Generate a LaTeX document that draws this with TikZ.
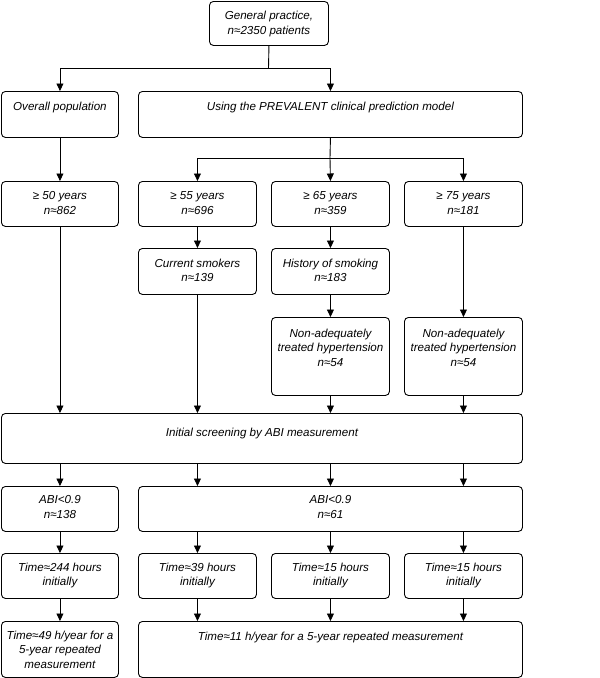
\documentclass[tikz,border=0pt]{standalone}
\usepackage{fontspec}
\setmainfont{Liberation Sans}
\usetikzlibrary{arrows.meta}
\newcommand\bx[7]{%
  \pgfmathsetmacro\bw{#4-#2}\pgfmathsetmacro\bh{#5-#3}%
  \node[box, minimum width=\bw pt, minimum height=\bh pt] (#1) at (#2,#3) {};
  \node[lbl] (#1t) at ([yshift=-#6pt]#1.north) {\rule{0pt}{9pt}#7};}
\begin{document}
\begin{tikzpicture}[x=1pt,y=-1pt,
  box/.style={draw, line width=0.9pt, rounded corners=4pt, inner sep=0pt, anchor=north west},
  lbl/.style={font=\fontsize{11.6}{14.5}\selectfont\itshape, align=center, inner sep=0pt, anchor=north},
  ln/.style={line width=0.9pt},
  arr/.style={line width=0.9pt, -{Triangle[length=7.5pt,width=7pt]}}]
\fill[white] (0,0) rectangle (600,678);
\useasboundingbox (0,0) rectangle (600,678);
\bx{top}{209}{1}{328}{45}{9.5}{General practice,\\n≈2350 patients}
\bx{ov}{1}{91}{118}{137}{10}{Overall population}
\bx{prev}{138}{91}{522}{137}{10}{Using the PREVALENT clinical prediction model}
\bx{a50}{1}{181}{118}{226}{9.5}{≥ 50 years\\n≈862}
\bx{a55}{138}{181}{256}{226}{9.5}{≥ 55 years\\n≈696}
\bx{a65}{271}{181}{389}{226}{9.5}{≥ 65 years\\n≈359}
\bx{a75}{404}{181}{522}{226}{9.5}{≥ 75 years\\n≈181}
\bx{smk}{138}{248}{256}{294}{10}{Current smokers\\n≈139}
\bx{his}{271}{248}{389}{294}{10}{History of smoking\\n≈183}
\bx{hyp1}{271}{317}{389}{395}{11}{Non-adequately\\treated hypertension\\n≈54}
\bx{hyp2}{404}{317}{522}{395}{11}{Non-adequately\\treated hypertension\\n≈54}
\bx{scr}{1}{413}{522}{463}{14.5}{Initial screening by ABI measurement}
\bx{abi1}{1}{486}{118}{531}{8.5}{ABI<0.9\\n≈138}
\bx{abi2}{138}{486}{522}{531}{8.5}{ABI<0.9\\n≈61}
\bx{t1}{1}{553}{118}{598}{9}{Time≈244 hours\\initially}
\bx{t2}{138}{553}{256}{598}{9}{Time≈39 hours\\initially}
\bx{t3}{271}{553}{389}{598}{9}{Time≈15 hours\\initially}
\bx{t4}{404}{553}{522}{598}{9}{Time≈15 hours\\initially}
\bx{r1}{1}{621}{118}{677}{9}{Time≈49 h/year for a\\5-year repeated\\measurement}
\bx{r2}{138}{621}{522}{677}{10}{Time≈11 h/year for a 5-year repeated measurement}
% connectors
\coordinate (j1) at (268.5,68);
\draw[ln] (top.south) -- (j1);
\draw[arr] (j1) -| (ov.north);
\draw[arr] (j1) -| (prev.north);
\draw[arr] (ov.south) -- (a50.north);
\coordinate (j2) at (330,158);
\draw[ln] (prev.south) -- (j2);
\draw[arr] (j2) -- (a65.north);
\draw[arr] (j2) -| (a55.north);
\draw[arr] (j2) -| (a75.north);
\draw[arr] (a55.south) -- (smk.north);
\draw[arr] (a65.south) -- (his.north);
\draw[arr] (his.south) -- (hyp1.north);
\draw[arr] (a75.south) -- (hyp2.north);
\draw[arr] (a50.south) -- (a50.south |- scr.north);
\draw[arr] (smk.south) -- (smk.south |- scr.north);
\draw[arr] (hyp1.south) -- (hyp1.south |- scr.north);
\draw[arr] (hyp2.south) -- (hyp2.south |- scr.north);
\draw[arr] (scr.south -| abi1.north) -- (abi1.north);
\draw[arr] (scr.south -| t2.north) -- (t2.north |- abi2.north);
\draw[arr] (scr.south -| t3.north) -- (t3.north |- abi2.north);
\draw[arr] (scr.south -| t4.north) -- (t4.north |- abi2.north);
\draw[arr] (abi1.south) -- (t1.north);
\draw[arr] (abi2.south -| t2.north) -- (t2.north);
\draw[arr] (abi2.south -| t3.north) -- (t3.north);
\draw[arr] (abi2.south -| t4.north) -- (t4.north);
\draw[arr] (t1.south) -- (r1.north);
\draw[arr] (t2.south) -- (t2.south |- r2.north);
\draw[arr] (t3.south) -- (t3.south |- r2.north);
\draw[arr] (t4.south) -- (t4.south |- r2.north);
\end{tikzpicture}
\end{document}
